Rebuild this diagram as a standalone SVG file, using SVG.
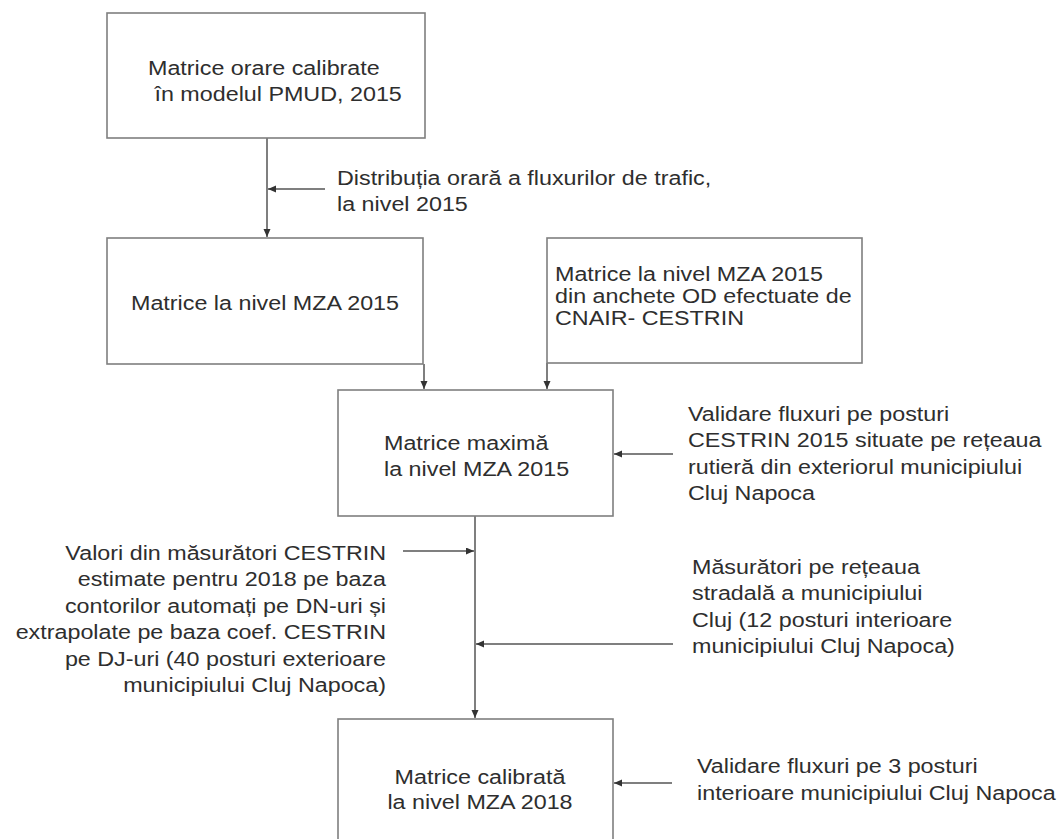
<svg xmlns="http://www.w3.org/2000/svg" width="1061" height="839" viewBox="0 0 1061 839">
<style>
.box{fill:#fff;stroke:#7f7f7f;stroke-width:1.6}
.con{fill:none;stroke:#555;stroke-width:1.5}
.t{font-family:"Liberation Sans",Arial,sans-serif;font-size:21px;fill:#2e2e2e}
</style>
<defs>
<marker id="ah" markerUnits="userSpaceOnUse" markerWidth="9" markerHeight="8" refX="8" refY="3.5" orient="auto">
<path d="M0,0 L8,3.5 L0,7 z" fill="#333"/>
</marker>
</defs>
<rect width="1061" height="839" fill="#fff"/>
<g id="connectors">
<line class="con" x1="267" y1="138" x2="267" y2="237" marker-end="url(#ah)"/>
<line class="con" x1="325" y1="189" x2="268" y2="189" marker-end="url(#ah)"/>
<line class="con" x1="424" y1="364" x2="424" y2="389" marker-end="url(#ah)"/>
<line class="con" x1="547" y1="363" x2="547" y2="389" marker-end="url(#ah)"/>
<line class="con" x1="673" y1="454" x2="614" y2="454" marker-end="url(#ah)"/>
<line class="con" x1="475" y1="516" x2="475" y2="718" marker-end="url(#ah)"/>
<line class="con" x1="403" y1="551" x2="474" y2="551" marker-end="url(#ah)"/>
<line class="con" x1="673" y1="644" x2="476" y2="644" marker-end="url(#ah)"/>
<line class="con" x1="672" y1="783" x2="614" y2="783" marker-end="url(#ah)"/>
</g>
<g id="n1">
<rect class="box" x="107" y="13" width="318" height="125"/>
<text class="t" transform="translate(148,0) scale(1.11,1)"><tspan x="0" y="75">Matrice orare calibrate</tspan><tspan x="0" y="101"> în modelul PMUD, 2015</tspan></text>
</g>
<g id="lbl1">
<text class="t" transform="translate(337,0) scale(1.11,1)"><tspan x="0" y="185">Distribuția orară a fluxurilor de trafic,</tspan><tspan x="0" y="211">la nivel 2015</tspan></text>
</g>
<g id="n2">
<rect class="box" x="107" y="238" width="316" height="126"/>
<text class="t" text-anchor="middle" transform="translate(265,0) scale(1.11,1)"><tspan x="0" y="310">Matrice la nivel MZA 2015</tspan></text>
</g>
<g id="n3">
<rect class="box" x="547" y="238" width="315" height="125"/>
<text class="t" transform="translate(555,0) scale(1.11,1)"><tspan x="0" y="281">Matrice la nivel MZA 2015</tspan><tspan x="0" y="303">din anchete OD efectuate de</tspan><tspan x="0" y="325">CNAIR- CESTRIN</tspan></text>
</g>
<g id="n4">
<rect class="box" x="338" y="390" width="275" height="126"/>
<text class="t" transform="translate(384,0) scale(1.11,1)"><tspan x="0" y="450">Matrice maximă</tspan><tspan x="0" y="476">la nivel MZA 2015</tspan></text>
</g>
<g id="lbl2">
<text class="t" transform="translate(688,0) scale(1.11,1)"><tspan x="0" y="421">Validare fluxuri pe posturi</tspan><tspan x="0" y="447">CESTRIN 2015 situate pe rețeaua</tspan><tspan x="0" y="474">rutieră din exteriorul municipiului</tspan><tspan x="0" y="500">Cluj Napoca</tspan></text>
</g>
<g id="lbl3">
<text class="t" text-anchor="end" transform="translate(386,0) scale(1.11,1)"><tspan x="0" y="560">Valori din măsurători CESTRIN</tspan><tspan x="0" y="586">estimate pentru 2018 pe baza</tspan><tspan x="0" y="613">contorilor automați pe DN-uri și</tspan><tspan x="0" y="639">extrapolate pe baza coef. CESTRIN</tspan><tspan x="0" y="666">pe DJ-uri (40 posturi exterioare</tspan><tspan x="0" y="692">municipiului Cluj Napoca)</tspan></text>
</g>
<g id="lbl4">
<text class="t" transform="translate(692,0) scale(1.11,1)"><tspan x="0" y="574">Măsurători pe rețeaua</tspan><tspan x="0" y="600">stradală a municipiului</tspan><tspan x="0" y="627">Cluj (12 posturi interioare</tspan><tspan x="0" y="653">municipiului Cluj Napoca)</tspan></text>
</g>
<g id="n5">
<rect class="box" x="338" y="719" width="275" height="130"/>
<text class="t" text-anchor="middle" transform="translate(480,0) scale(1.11,1)"><tspan x="0" y="784">Matrice calibrată</tspan><tspan x="0" y="809">la nivel MZA 2018</tspan></text>
</g>
<g id="lbl5">
<text class="t" transform="translate(697,0) scale(1.11,1)"><tspan x="0" y="773">Validare fluxuri pe 3 posturi</tspan><tspan x="0" y="800">interioare municipiului Cluj Napoca</tspan></text>
</g>
</svg>
